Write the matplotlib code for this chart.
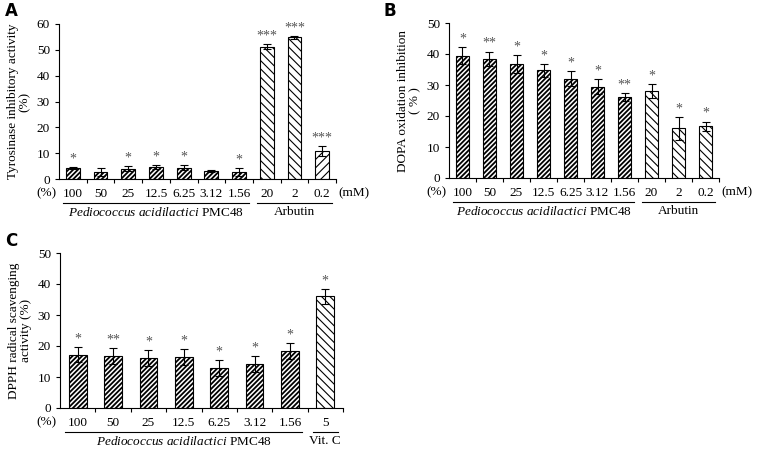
import numpy as np
import matplotlib
matplotlib.use("Agg")
import matplotlib.pyplot as plt
import matplotlib.transforms as mtransforms

plt.rcParams['font.family'] = ['Liberation Serif', 'DejaVu Serif']
plt.rcParams['hatch.linewidth'] = 1.0
plt.rcParams['mathtext.fontset'] = 'custom'
plt.rcParams['mathtext.it'] = 'Liberation Serif:italic'
plt.rcParams['mathtext.rm'] = 'Liberation Serif'

# data
conc_p = ['100', '50', '25', '12.5', '6.25', '3.12', '1.56']
conc_arb = ['20', '2', '0.2']
conc_vc = ['5']

a_vals = [4.3, 2.6, 4.0, 4.7, 4.4, 3.1, 2.7, 51.2, 54.9, 10.8]
a_err = [0.3, 1.5, 1.0, 0.8, 1.0, 0.4, 1.5, 1.0, 0.6, 1.8]
a_star = ['*', '', '*', '*', '*', '', '*', '***', '***', '***']
a_hatch = ['///////'] * 7 + ['\\\\\\\\', '\\\\\\\\', '////']

b_vals = [39.5, 38.5, 36.8, 34.7, 32.0, 29.5, 26.2, 28.0, 16.0, 16.7]
b_err = [2.8, 2.3, 3.0, 2.1, 2.4, 2.3, 1.2, 2.3, 3.7, 1.5]
b_star = ['*', '**', '*', '*', '*', '*', '**', '*', '*', '*']
b_hatch = ['///////'] * 7 + ['\\\\\\\\'] * 3

c_vals = [17.2, 16.8, 16.2, 16.4, 12.8, 14.2, 18.3, 36.0]
c_err = [2.5, 2.5, 2.5, 2.5, 2.6, 2.6, 2.6, 2.5]
c_star = ['*', '**', '*', '*', '*', '*', '*', '*']
c_hatch = ['///////'] * 7 + ['\\\\\\\\']

W, H = 763, 449
fig = plt.figure(figsize=(7.63, 4.49), dpi=100)


def px_axes(x0, x1, ytop, ybot):
    return fig.add_axes([x0 / W, (H - ybot) / H, (x1 - x0) / W, (ybot - ytop) / H])


def panel(ax, vals, errs, stars, hatches, labels, groups, ymax, ystep, ylabel, right_unit):
    n = len(vals)
    x = np.arange(n)
    for i in range(n):
        b = ax.bar(x[i], vals[i], width=0.5, color='white', edgecolor='black',
                   hatch=hatches[i], linewidth=0.8)[0]
        if hasattr(b, 'set_hatch_linewidth'):
            b.set_hatch_linewidth(1.3 if hatches[i].startswith('/') and len(hatches[i]) > 5 else 0.8)
    ax.errorbar(x, vals, yerr=errs, fmt='none', ecolor='black', elinewidth=0.8,
                capsize=3, capthick=0.8)
    off = ymax * 0.01
    for i in range(n):
        if stars[i]:
            ax.text(x[i], vals[i] + errs[i] + off, stars[i], ha='center', va='bottom',
                    fontsize=10, color='#555555')
    ax.set_xlim(-0.5, n - 0.5)
    ax.set_ylim(0, ymax)
    ax.set_yticks(np.arange(0, ymax + 0.1, ystep))
    ax.tick_params(axis='y', labelsize=9.5, length=3, width=0.8)
    ax.set_xticks(x)
    ax.set_xticklabels([])
    ax.tick_params(axis='x', which='major', length=0)
    ax.set_xticks(np.arange(-0.5, n, 1.0)[1:], minor=True)
    ax.tick_params(axis='x', which='minor', length=3, width=0.8, direction='out')
    for s in ['top', 'right']:
        ax.spines[s].set_visible(False)
    ax.spines['left'].set_linewidth(0.8)
    ax.spines['bottom'].set_linewidth(0.8)
    ax.set_ylabel(ylabel, fontsize=9.5, linespacing=1.0, labelpad=4)

    tr = mtransforms.blended_transform_factory(ax.transData, ax.transAxes)
    for i, lab in enumerate(labels):
        ax.text(x[i], -0.095, lab, transform=tr, ha='center', va='center', fontsize=9.5)
    ax.text(-0.6, -0.095, '(%)', transform=tr, ha='right', va='center', fontsize=9.5)
    if right_unit:
        ax.text(n - 0.4, -0.095, right_unit, transform=tr, ha='left', va='center', fontsize=9.5)
    for (start, stop, name, italic) in groups:
        ax.plot([start - 0.35, stop + 0.35], [-0.155, -0.155], transform=tr, color='black',
                lw=0.8, clip_on=False)
        mid = (start + stop) / 2
        if italic:
            ax.text(mid, -0.215, r'$\it{Pediococcus\ acidilactici}$' + ' PMC48', transform=tr,
                    ha='center', va='center', fontsize=9.5)
        else:
            ax.text(mid, -0.215, name, transform=tr, ha='center', va='center', fontsize=9.5)


axA = px_axes(59, 336, 24, 179)
panel(axA, a_vals, a_err, a_star, a_hatch, conc_p + conc_arb,
      [(0, 6, 'Pedio', True), (7, 9, 'Arbutin', False)], 60, 10,
      'Tyrosinase inhibitory activity\n(%)', '(mM)')

axB = px_axes(449, 719, 23, 178)
panel(axB, b_vals, b_err, b_star, b_hatch, conc_p + conc_arb,
      [(0, 6, 'Pedio', True), (7, 9, 'Arbutin', False)], 50, 10,
      'DOPA oxidation inhibition\n( % )', '(mM)')

axC = px_axes(60, 343, 253, 408)
panel(axC, c_vals, c_err, c_star, c_hatch, conc_p + conc_vc,
      [(0, 6, 'Pedio', True), (7, 7, 'Vit. C', False)], 50, 10,
      'DPPH radical scavenging\nactivity (%)', None)

# panel letters
for lx, ly, letter in [(5, 2, 'A'), (384, 2, 'B'), (5, 232, 'C')]:
    fig.text(lx / W, 1 - ly / H, letter, fontsize=12, fontweight='bold',
             family='DejaVu Sans', ha='left', va='top')

fig.savefig('out.png', dpi=100)
